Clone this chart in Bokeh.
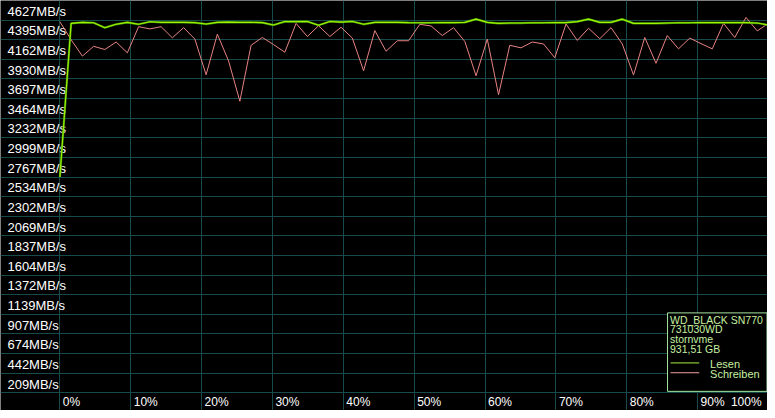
from bokeh.plotting import figure
from bokeh.models import Range1d, Grid, FixedTicker
from bokeh.core.properties import value
from bokeh.embed import file_html
from bokeh.resources import INLINE

# ---- data ----
y_tick_labels = ["4627MB/s", "4395MB/s", "4162MB/s", "3930MB/s", "3697MB/s", "3464MB/s",
                 "3232MB/s", "2999MB/s", "2767MB/s", "2534MB/s", "2302MB/s", "2069MB/s",
                 "1837MB/s", "1604MB/s", "1372MB/s", "1139MB/s", "907MB/s", "674MB/s",
                 "442MB/s", "209MB/s"]
x_tick_labels = ["0%", "10%", "20%", "30%", "40%", "50%", "60%", "70%", "80%", "90%", "100%"]

lesen = [2558, 4379, 4391, 4386, 4328, 4368, 4391, 4368, 4398, 4391, 4391, 4391, 4388, 4371,
         4391, 4394, 4391, 4391, 4388, 4359, 4400, 4400, 4402, 4356, 4402, 4394, 4402, 4368,
         4391, 4391, 4391, 4388, 4386, 4386, 4388, 4388, 4391, 4429, 4391, 4379, 4383, 4383,
         4386, 4386, 4388, 4388, 4400, 4429, 4391, 4391, 4429, 4379, 4379, 4379, 4383, 4386,
         4386, 4388, 4388, 4388, 4388, 4388, 4383, 4359]
schreiben = [4398, 4185, 3991, 4107, 4069, 4158, 4030, 4340, 4313, 4340, 4208, 4328, 4193, 3770,
             4251, 3933, 3456, 4119, 4212, 4127, 4037, 4379, 4223, 4351, 4223, 4333, 4205, 3817,
             4293, 4049, 4173, 4173, 4368, 4348, 4235, 4328, 4165, 3758, 4193, 3534, 4119, 4089,
             4158, 4135, 3972, 4371, 4177, 4321, 4197, 4328, 4135, 3767, 4212, 3906, 4235, 4077,
             4205, 4139, 4077, 4379, 4212, 4449, 4290, 4379]
info_lines = ["WD_BLACK SN770", "731030WD", "stornvme", "931,51 GB"]
legend_names = ["Lesen", "Schreiben"]

n = len(lesen)
xs = [i * 100.0 / (n - 1) for i in range(n)]

# ---- scales: reference pixel -> data ----
PX_PER_PCT = 7.16
MB_PER_PX = 11.625


def px_x(X):
    return (X - 60) / PX_PER_PCT


def px_y(Y):
    return (400 - Y) * MB_PER_PX


W, H = 767, 410
p = figure(width=W, height=H, output_backend="svg", toolbar_location=None,
           x_range=Range1d(px_x(0), px_x(775)), y_range=Range1d(px_y(418), px_y(0)),
           x_axis_type=None, y_axis_type=None, min_border=0,
           background_fill_color="#000000", border_fill_color="#000000",
           outline_line_color=None)
grid_color = "#174a4a"
row_mb = 20 * MB_PER_PX
p.add_layout(Grid(dimension=1, ticker=FixedTicker(ticks=[row_mb * k for k in range(21)]),
                  grid_line_color=grid_color, grid_line_width=1))
p.add_layout(Grid(dimension=0, ticker=FixedTicker(ticks=[10 * k for k in range(10)]),
                  grid_line_color=grid_color, grid_line_width=1))

# y labels (inside rows)
ly = [row_mb * (len(y_tick_labels) - k) - row_mb / 2 - MB_PER_PX for k in range(len(y_tick_labels))]
p.text(x=[px_x(7)] * len(ly), y=ly, text=y_tick_labels, text_color="#ffffff",
       text_font=value("Liberation Sans"), text_font_size="13px",
       text_align="left", text_baseline="middle")

# x labels
lx = [10 * k + 3 / PX_PER_PCT for k in range(10)] + [px_x(738)]
p.text(x=lx, y=[px_y(409.5)] * len(lx), text=x_tick_labels, text_color="#ffffff",
       text_font=value("Liberation Sans"), text_font_size="12px",
       text_align="left", text_baseline="middle")

# series
p.line(xs, schreiben, line_color="#e88282", line_width=1)
p.line(xs, lesen, line_color="#3f9a00", line_width=2.2, line_alpha=0.9)
p.line(xs, lesen, line_color="#a0f400", line_width=1.1)

# legend box
p.quad(left=[px_x(674)], right=[px_x(774.5)], top=[px_y(318.5)], bottom=[px_y(398.5)],
       fill_color="#000000", fill_alpha=1.0, line_color="#a6e6a0", line_width=1)
info_y = [px_y(Y) for Y in (325.3, 335.3, 345.3, 355)]
p.text(x=[px_x(676.5)] * 4, y=info_y, text=info_lines, text_color="#c6f0a0",
       text_font=value("Liberation Sans"), text_font_size="10.5px",
       text_align="left", text_baseline="middle")
p.segment(x0=[px_x(677)] * 2, x1=[px_x(706)] * 2, y0=[px_y(369.5), px_y(379.5)],
          y1=[px_y(369.5), px_y(379.5)], line_color=["#a6f040", "#f0a0a0"], line_width=1)
p.text(x=[px_x(717)] * 2, y=[px_y(370.5), px_y(380.5)], text=legend_names,
       text_color="#c6f0a0", text_font=value("Liberation Sans"), text_font_size="11px",
       text_align="left", text_baseline="middle")

open("out.html", "w").write(file_html(p, INLINE))
